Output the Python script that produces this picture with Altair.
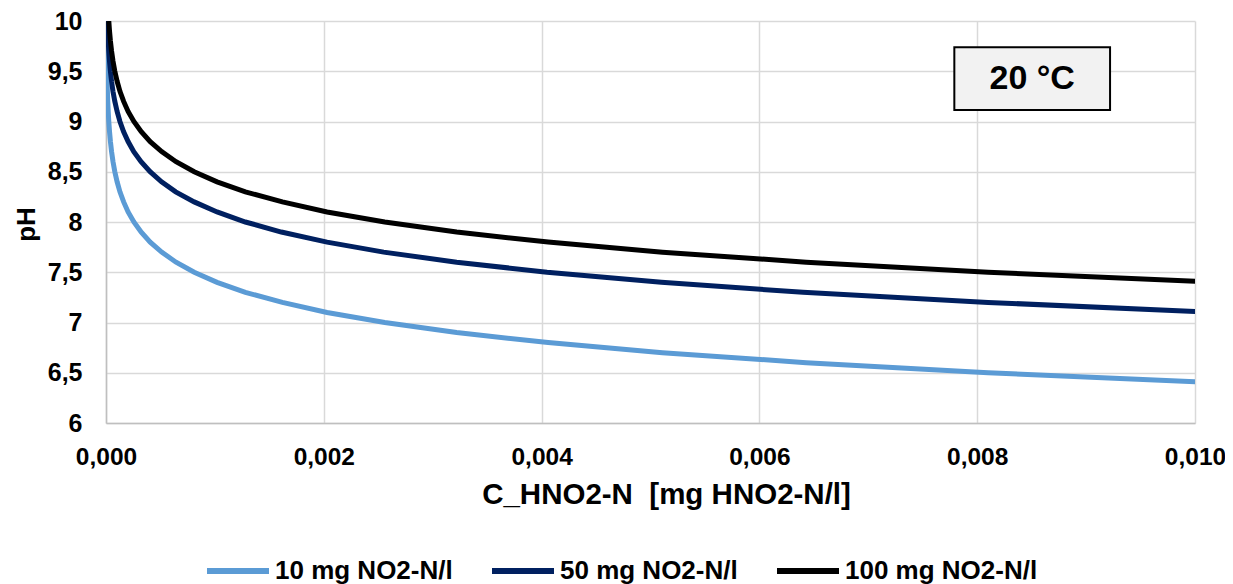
import altair as alt
import pandas as pd

series_names = ["10 mg NO2-N/l", "50 mg NO2-N/l", "100 mg NO2-N/l"]
series_colors = ["#5B9BD5", "#002060", "#000000"]

ph_10 = [10.0, 9.9, 9.8, 9.7, 9.6, 9.5, 9.4, 9.3, 9.2, 9.1, 9.0, 8.9, 8.8, 8.7, 8.6, 8.5,
         8.4, 8.3, 8.2, 8.1, 8.0, 7.9, 7.8, 7.7, 7.6, 7.5, 7.4, 7.3, 7.2, 7.1, 7.0, 6.9,
         6.8, 6.7, 6.6, 6.5, 6.4]
c_10 = [0.0000026, 0.0000032, 0.0000041, 0.0000051, 0.0000064, 0.0000081, 0.0000102,
        0.0000128, 0.0000162, 0.0000203, 0.0000256, 0.0000322, 0.0000406, 0.0000511,
        0.0000643, 0.000081, 0.000102, 0.000128, 0.000162, 0.000203, 0.000256, 0.000322,
        0.000406, 0.000511, 0.000643, 0.00081, 0.00102, 0.00128, 0.00162, 0.00203,
        0.00256, 0.00322, 0.00406, 0.00511, 0.00643, 0.0081, 0.0102]

ph_50 = [10.0, 9.9, 9.8, 9.7, 9.6, 9.5, 9.4, 9.3, 9.2, 9.1, 9.0, 8.9, 8.8, 8.7, 8.6, 8.5,
         8.4, 8.3, 8.2, 8.1, 8.0, 7.9, 7.8, 7.7, 7.6, 7.5, 7.4, 7.3, 7.2, 7.1]
c_50 = [0.0000128, 0.0000161, 0.0000203, 0.0000255, 0.0000322, 0.0000405, 0.000051,
        0.000064, 0.000081, 0.000102, 0.000128, 0.000161, 0.000203, 0.000255, 0.000322,
        0.000405, 0.00051, 0.00064, 0.00081, 0.00102, 0.00128, 0.00161, 0.00203, 0.00255,
        0.00322, 0.00405, 0.0051, 0.0064, 0.0081, 0.0102]

ph_100 = [10.0, 9.9, 9.8, 9.7, 9.6, 9.5, 9.4, 9.3, 9.2, 9.1, 9.0, 8.9, 8.8, 8.7, 8.6, 8.5,
          8.4, 8.3, 8.2, 8.1, 8.0, 7.9, 7.8, 7.7, 7.6, 7.5, 7.4]
c_100 = [0.0000256, 0.0000322, 0.0000406, 0.0000511, 0.0000643, 0.000081, 0.000102,
         0.000128, 0.000162, 0.000203, 0.000256, 0.000322, 0.000406, 0.000511, 0.000643,
         0.00081, 0.00102, 0.00128, 0.00162, 0.00203, 0.00256, 0.00322, 0.00406, 0.00511,
         0.00643, 0.0081, 0.0102]

x_ticks = [0.0, 0.002, 0.004, 0.006, 0.008, 0.010]
y_ticks = [6, 6.5, 7, 7.5, 8, 8.5, 9, 9.5, 10]

# annotation box ("20 °C") in data coordinates
box_label = ["20 °C"]
box_x = [0.00779]
box_x2 = [0.00922]
box_y = [9.115]
box_y2 = [9.74]

frames = []
for name, cs, phs in zip(series_names, [c_10, c_50, c_100], [ph_10, ph_50, ph_100]):
    frames.append(pd.DataFrame({"c": cs, "ph": phs, "series": name, "order": range(len(cs))}))
df = pd.concat(frames, ignore_index=True)

box_df = pd.DataFrame({"label": box_label, "x": box_x, "x2": box_x2, "y": box_y, "y2": box_y2})
box_df["xm"] = (box_df["x"] + box_df["x2"]) / 2
box_df["ym"] = (box_df["y"] + box_df["y2"]) / 2

FONT = "Liberation Sans"

x_scale = alt.Scale(domain=[0, 0.010], nice=False, zero=False)
y_scale = alt.Scale(domain=[6, 10], nice=False, zero=False)

lines = alt.Chart(df).mark_line(strokeWidth=5, clip=True).encode(
    x=alt.X("c:Q", scale=x_scale,
            axis=alt.Axis(values=x_ticks, title="C_HNO2-N \u00a0[mg HNO2-N/l]",
                          labelExpr="replace(format(datum.value, '.3f'), '.', ',')",
                          labelFlush=False, labelPadding=22, labelFontSize=24.5,
                          titleX=560, titleAlign="center",
                          titleY=80, titleBaseline="alphabetic", titleFontSize=29.5)),
    y=alt.Y("ph:Q", scale=y_scale,
            axis=alt.Axis(values=y_ticks, title="pH",
                          labelExpr="replace(toString(datum.value), '.', ',')",
                          labelPadding=24, labelFlush=False, titleX=-80, titleY=203,
                          titleAngle=270, titleBaseline="middle", titleAlign="center")),
    color=alt.Color("series:N",
                    scale=alt.Scale(domain=series_names, range=series_colors),
                    sort=series_names,
                    legend=alt.Legend(title=None, orient="none", direction="horizontal",
                                      legendX=98, legendY=516,
                                      symbolType="stroke", symbolSize=3844,
                                      symbolStrokeWidth=6, labelOffset=3,
                                      columnPadding=27, labelLimit=400,
                                      labelFont=FONT, labelFontSize=26,
                                      labelFontWeight="bold", labelColor="#000000")),
    order="order:Q",
)

box = alt.Chart(box_df).mark_rect(fill="#f2f2f2", stroke="#000000", strokeWidth=2).encode(
    x=alt.X("x:Q", scale=x_scale), x2="x2:Q",
    y=alt.Y("y:Q", scale=y_scale), y2="y2:Q",
)

box_text = alt.Chart(box_df).mark_text(font=FONT, fontSize=34, fontWeight="bold",
                                       color="#000000", align="center",
                                       baseline="middle").encode(
    x=alt.X("xm:Q", scale=x_scale),
    y=alt.Y("ym:Q", scale=y_scale),
    text="label:N",
)

chart = alt.layer(lines, box, box_text).properties(
    width=1089, height=402,
    autosize=alt.AutoSizeParams(type="none"),
    padding={"left": 98, "top": 13, "right": 30, "bottom": 161},
).configure_view(strokeWidth=0).configure_axis(
    labelFont=FONT, labelFontSize=25, labelFontWeight="bold", labelColor="#000000",
    titleFont=FONT, titleFontSize=26, titleFontWeight="bold", titleColor="#000000",
    gridColor="#d9d9d9", gridWidth=1.5, domainColor="#bfbfbf", domainWidth=1.5,
    ticks=False,
)

chart.save("out.html", embed_options={"renderer": "svg", "actions": False})
